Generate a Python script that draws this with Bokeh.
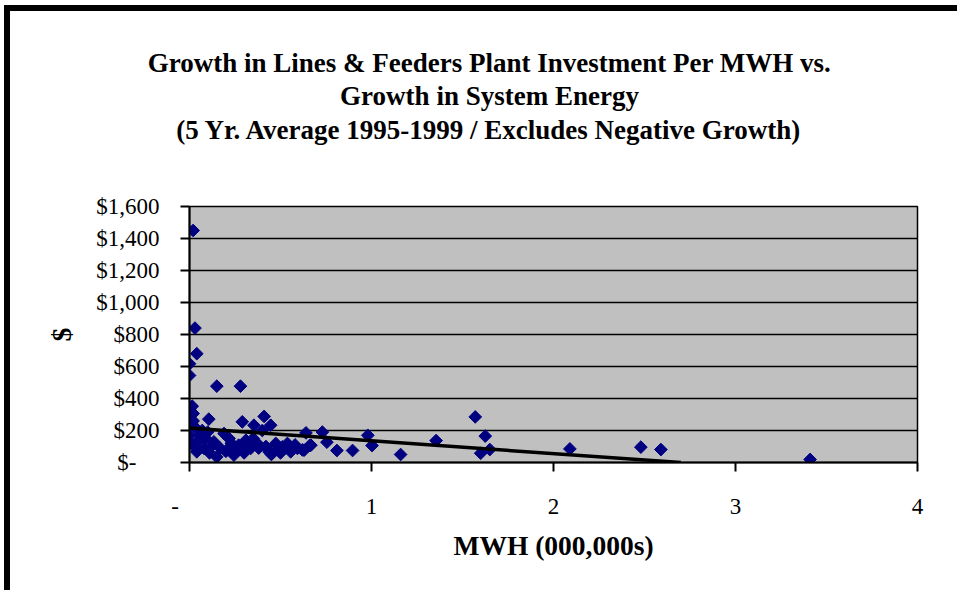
from bokeh.plotting import figure
from bokeh.models import FixedTicker, Label, Range1d
from bokeh.embed import file_html
from bokeh.resources import INLINE
import math

# ---- data ----
mwh = [0.02, 0.03, 0.04, 0.00, 0.00, 0.15, 0.28, 0.015, 0.02, 0.00, 0.106, 0.01,
       0.29, 0.41, 0.354, 0.446, 0.40, 0.64, 0.73, 0.755, 0.66, 0.62, 0.81, 0.896,
       0.98, 1.003, 1.16, 1.355, 1.57, 1.625, 1.65, 1.60, 2.09, 2.48, 2.59, 3.41,
       0.00, 0.00, 0.02, 0.06, 0.04, 0.08, 0.134, 0.17, 0.15, 0.217, 0.244, 0.27,
       0.31, 0.336, 0.373, 0.437, 0.474, 0.51, 0.538, 0.556, 0.593, 0.63, 0.667,
       0.19, 0.10, 0.03, 0.05, 0.07, 0.12, 0.20, 0.23, 0.26, 0.30, 0.35, 0.38,
       0.45, 0.50, 0.48, 0.58, 0.32, 0.22, 0.11, 0.09, 0.42, 0.02]
dollars = [1450, 840, 680, 617, 544, 477, 477, 352, 306, 330, 271, 244,
           254, 288, 233, 233, 200, 185, 190, 127, 106, 79, 75, 75,
           170, 106, 50, 137, 285, 165, 81, 58, 85, 96, 81, 19,
           170, 119, 108, 171, 67, 88, 129, 88, 35, 150, 46, 108,
           139, 88, 119, 67, 119, 98, 119, 67, 88, 77, 108,
           181, 190, 220, 140, 200, 100, 70, 120, 80, 60, 150, 90,
           50, 60, 80, 110, 110, 95, 60, 150, 100, 260]

trend_x = [0.0, 2.7]
trend_y = [215, 0]

y_ticks = [0, 200, 400, 600, 800, 1000, 1200, 1400, 1600]
y_tick_labels = ["$-\u00a0\u00a0\u00a0\u00a0", "$200", "$400", "$600", "$800",
                 "$1,000", "$1,200", "$1,400", "$1,600"]
x_ticks = [0, 1, 2, 3, 4]
x_tick_labels = ["-\u00a0\u00a0\u00a0\u00a0\u00a0", "1", "2", "3", "4"]

title_lines = ["Growth in Lines & Feeders Plant Investment Per MWH vs.",
               "Growth in System Energy",
               "(5 Yr. Average 1995-1999 / Excludes Negative Growth)"]
x_label = "MWH (000,000s)"
y_label = "$"

FONT = "Liberation Serif"

W, H = 953, 585
p = figure(width=W, height=H, output_backend="svg", toolbar_location=None,
           x_range=Range1d(0, 4), y_range=Range1d(0, 1600),
           min_border_left=179, min_border_right=46,
           min_border_top=195, min_border_bottom=134,
           background_fill_color="#C0C0C0", border_fill_color="white",
           styles={"margin-left": "4px", "margin-top": "5px",
                   "border-top": "6px solid black",
                   "border-left": "6px solid black"})

p.outline_line_color = "black"
p.outline_line_width = 1.5

p.xgrid.grid_line_color = None
p.ygrid.grid_line_color = "black"
p.ygrid.grid_line_width = 1.5

p.yaxis.ticker = FixedTicker(ticks=y_ticks)
p.yaxis.major_label_overrides = {t: l for t, l in zip(y_ticks, y_tick_labels)}
p.xaxis.ticker = FixedTicker(ticks=x_ticks)
p.xaxis.major_label_overrides = {t: l for t, l in zip(x_ticks, x_tick_labels)}

for ax in (p.xaxis, p.yaxis):
    ax.axis_line_color = "black"
    ax.axis_line_width = 2
    ax.major_tick_line_color = "black"
    ax.major_tick_line_width = 2
    ax.major_tick_out = 9
    ax.major_tick_in = 0
    ax.minor_tick_line_color = None
    ax.major_label_text_font = FONT
    ax.major_label_text_font_size = "23px"
    ax.major_label_text_color = "black"
    ax.axis_label_text_font = FONT
    ax.axis_label_text_font_size = "27.5px"
    ax.axis_label_text_font_style = "bold"
    ax.axis_label_text_color = "black"

p.xaxis.axis_label = x_label
p.yaxis.axis_label = y_label
p.xaxis.major_label_standoff = 22
p.yaxis.major_label_standoff = 21
p.xaxis.axis_label_standoff = 8
p.yaxis.axis_label_standoff = 16

p.scatter(mwh, dollars, marker="square", size=9, angle=math.pi / 4,
          fill_color="#000080", line_color="#000080")
p.line(trend_x, trend_y, line_color="black", line_width=3.5)

# title lines, placed in canvas pixels (side panel so they are not clipped)
title_y = [45, 78, 112]
for t, ty in zip(title_lines, title_y):
    p.add_layout(Label(x=473, y=ty, x_units="canvas", y_units="canvas",
                       text=t, text_font=FONT, text_font_size="27px",
                       text_font_style="bold", text_align="center",
                       text_baseline="middle", text_color="black"), "above")

open("out.html", "w").write(file_html(p, INLINE))
